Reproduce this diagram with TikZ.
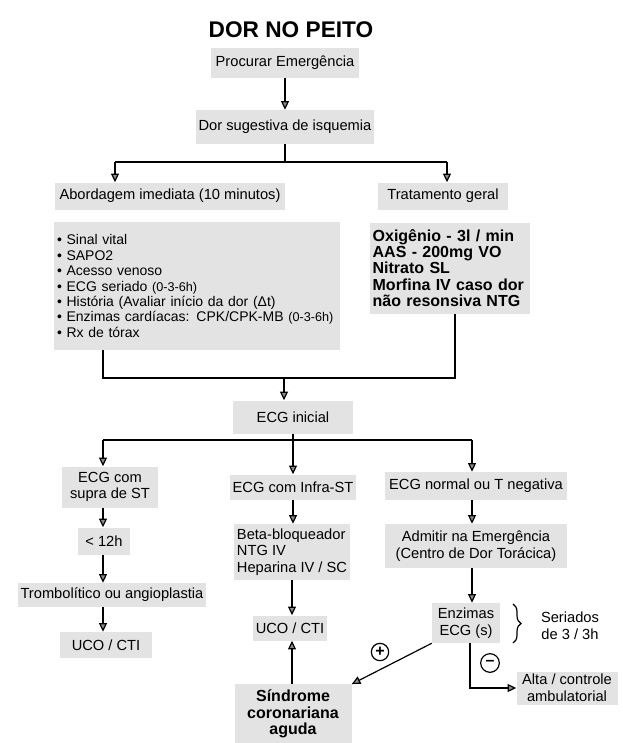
\documentclass[tikz,border=0pt]{standalone}
\usepackage{fontspec}
\setmainfont{Liberation Sans}
\usetikzlibrary{arrows.meta,decorations.pathreplacing}
\begin{document}
\begin{tikzpicture}[x=0.75pt,y=-0.75pt,
  box/.style={fill=black!11, inner sep=2pt, align=center, font=\fontsize{11}{12.5}\selectfont},
  boldbox/.style={box, font=\fontsize{12}{12.3}\selectfont\bfseries},
  link/.style={line width=0.9pt},
  arr/.style={link, -{Triangle[width=6pt,length=6.5pt,fill=black!45]}}]
\useasboundingbox (0,0) rectangle (622,743);
\node[font=\fontsize{17}{20}\selectfont\bfseries] (title) at (291,30) {DOR NO PEITO};
\node[box, minimum width=111pt, minimum height=22.5pt] (proc) at (285,63) {Procurar Emergência};
\node[box, minimum width=133.5pt, minimum height=25.5pt] (dor) at (285,127) {Dor sugestiva de isquemia};
\node[box, minimum width=172.5pt, minimum height=20.25pt] (abord) at (170,196) {Abordagem imediata (10 minutos)};
\node[box, minimum width=97.5pt, minimum height=20.25pt] (trat) at (443,196) {Tratamento geral};
\node[box, align=left, text width=210pt, inner sep=2pt, minimum height=96pt, font=\fontsize{10.5}{11.6}\selectfont] (list1) at (197,286) {%
\textbullet\ Sinal vital\\
\textbullet\ SAPO2\\
\textbullet\ Acesso venoso\\
\textbullet\ ECG seriado {\fontsize{9.5}{11.6}\selectfont(0-3-6h)}\\
\textbullet\ História (Avaliar início da dor (Δt)\\
\textbullet\ Enzimas cardíacas: CPK/CPK-MB {\fontsize{9.5}{11.6}\selectfont(0-3-6h)}\\
\textbullet\ Rx de tórax};
\node[boldbox, align=left, text width=116pt, minimum height=68.25pt] (list2) at (450,268) {%
Oxigênio - 3l / min\\
AAS - 200mg VO\\
Nitrato SL\\
Morfina IV caso dor\\
não resonsiva NTG};
\node[box, minimum width=90pt, minimum height=24.75pt] (ecgi) at (293,417) {ECG inicial};
% left column
\node[box, minimum width=72pt, minimum height=30.75pt] (supra) at (110,487) {ECG com\\supra de ST};
\node[box, minimum width=39pt, minimum height=20.25pt] (h12) at (104,541) {< 12h};
\node[box, minimum width=140.25pt, minimum height=18pt] (tromb) at (112,595) {Trombolítico ou angioplastia};
\node[box, minimum width=69pt, minimum height=19.5pt] (uco1) at (106,645) {UCO / CTI};
% middle column
\node[box, minimum width=87.75pt, minimum height=18.75pt] (infra) at (293,487) {ECG com Infra-ST};
\node[box, align=left, minimum width=86.25pt, minimum height=42pt] (beta) at (292,552) {Beta-bloqueador\\NTG IV\\Heparina IV / SC};
\node[box, minimum width=50pt, minimum height=18.75pt] (uco2) at (290,628) {UCO / CTI};
\node[boldbox, minimum width=87.75pt, minimum height=44.5pt] (sind) at (293,714) {Síndrome\\coronariana\\aguda};
% right column
\node[box, minimum width=136.5pt, minimum height=21pt] (ecgn) at (476,486) {ECG normal ou T negativa};
\node[box, minimum width=136.5pt, minimum height=33pt] (admit) at (476,546) {Admitir na Emergência\\(Centro de Dor Torácica)};
\node[box, minimum width=51pt, minimum height=30pt] (enz) at (466,623) {Enzimas\\ECG (s)};
\node[box, minimum width=75.75pt, minimum height=24.75pt] (alta) at (567,688) {Alta / controle\\ambulatorial};
\node[align=center, font=\fontsize{11}{12.5}\selectfont] (ser) at (570,626) {Seriados\\de 3 / 3h};
\node[circle, draw, line width=0.9pt, inner sep=0pt, minimum size=13pt, font=\fontsize{12}{12}\selectfont\bfseries] (plus) at (380,652) {+};
\node[circle, draw, line width=0.9pt, inner sep=0pt, minimum size=14pt, font=\fontsize{12}{12}\selectfont\bfseries] (minus) at (490,663) {–};
% connectors top
\draw[arr] (proc) -- (dor);
\coordinate (j1) at (285,162);
\coordinate (aL) at (115,162);
\coordinate (aR) at (447,162);
\draw[link] (dor) -- (j1);
\draw[link] (aL) -- (aR);
\draw[arr] (aL) -- (aL |- abord.north);
\draw[arr] (aR) -- (aR |- trat.north);
% merge to ECG inicial
\coordinate (bL) at (103,378);
\coordinate (bR) at (455,378);
\coordinate (bM) at (284,378);
\draw[link] (bL |- list1.south) -- (bL) -- (bR) -- (bR |- list2.south);
\draw[arr] (bM) -- (bM |- ecgi.north);
% split from ECG inicial
\coordinate (cL) at (103,440);
\coordinate (cM) at (293,440);
\coordinate (cR) at (472,440);
\draw[link] (ecgi) -- (cM);
\draw[link] (cL) -- (cR);
\draw[arr] (cL) -- (cL |- supra.north);
\draw[arr] (cM) -- (infra);
\draw[arr] (cR) -- (cR |- ecgn.north);
% left column arrows
\draw[arr] (cL |- supra.south) -- (cL |- h12.north);
\draw[arr] (cL |- h12.south) -- (cL |- tromb.north);
\draw[arr] (cL |- tromb.south) -- (cL |- uco1.north);
% middle column arrows
\draw[arr] (cM |- infra.south) -- (cM |- beta.north);
\coordinate (dM) at (292,600);
\draw[arr] (dM |- beta.south) -- (dM |- uco2.north);
\draw[arr] (dM |- sind.north) -- (dM |- uco2.south);
% right column arrows
\draw[arr] (cR |- ecgn.south) -- (cR |- admit.north);
\draw[arr] (cR |- admit.south) -- (cR |- enz.north);
\draw[arr] (enz.south west) -- (sind.north east);
\coordinate (m1) at (470,688);
\draw[arr] (m1 |- enz.south) -- (m1) -- (alta.west);
\draw[link, decorate, decoration={brace, amplitude=6pt}] (513,604) -- (513,643);
\end{tikzpicture}
\end{document}
